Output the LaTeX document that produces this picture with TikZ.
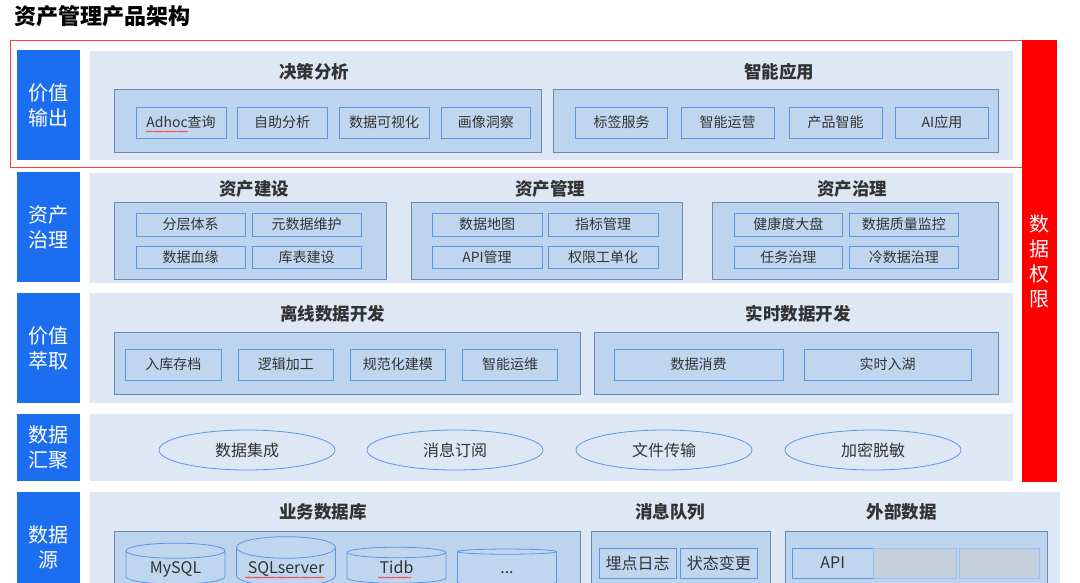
\documentclass[tikz,border=0pt]{standalone}
\usepackage{fontspec}
\setmainfont{Noto Sans CJK SC}
\usetikzlibrary{positioning,shapes.geometric,decorations.pathmorphing}

\definecolor{panelbg}{HTML}{DEE8F5}
\definecolor{groupbg}{HTML}{BDD4EE}
\definecolor{groupline}{HTML}{6E88B0}
\definecolor{itembg}{HTML}{C0D6EF}
\definecolor{itemline}{HTML}{5B95E4}
\definecolor{labelblue}{HTML}{1C6EF0}
\definecolor{textgrey}{HTML}{333333}
\definecolor{blurbg}{HTML}{C5D0DC}

\tikzset{
  panel/.style={fill=panelbg, draw=none},
  layerlabel/.style={fill=labelblue, draw=none, text=white, align=center,
    font=\fontsize{20}{25}\selectfont},
  groupbox/.style={fill=groupbg, draw=groupline, line width=0.8pt},
  itembox/.style={fill=itembg, draw=itemline, line width=0.8pt, text=textgrey,
    font=\fontsize{14}{16}\selectfont},
  srcbox/.style={itembox, font=\fontsize{16}{18}\selectfont},
  blurbox/.style={fill=blurbg, draw=itemline!60, line width=0.8pt},
  grouptitle/.style={text=textgrey, font=\bfseries\fontsize{17.5}{20}\selectfont},
  flowitem/.style={ellipse, draw=itemline, line width=0.8pt, text=textgrey,
    minimum width=176pt, minimum height=40pt, inner sep=0pt,
    font=\fontsize{16}{18}\selectfont},
  dbitem/.style={cylinder, shape border rotate=90, aspect=0.26, fill=itembg,
    draw=itemline, line width=0.8pt, minimum width=99pt, minimum height=36pt,
    outer sep=0pt, text height=11pt, text depth=3pt, text=textgrey,
    font=\fontsize{16}{18}\selectfont},
  squiggle/.style={red!85, line width=0.5pt, decorate,
    decoration={snake, amplitude=0.6pt, segment length=2.4pt}},
}

\begin{document}
\begin{tikzpicture}[x=1pt, y=-1pt]
  \clip (0,0) rectangle (1080,582);
  \fill[white] (0,0) rectangle (1080,582);
  \node[anchor=west, text=black, font=\bfseries\fontsize{22}{25}\selectfont] (title) at (11,16) {资产管理产品架构};

  % 价值输出
  \draw[layerlabel] (16.5,50) rectangle (80,160) node(outlbl)[pos=.5] {价值\\输出};
  \draw[panel] (89.5,51) rectangle (1013,160);
  \node[grouptitle] (decide) at (314,72) {决策分析};
  \node[grouptitle] (smart) at (779,72) {智能应用};
  \draw[groupbox] (114,89) rectangle (541,152);
  \draw[groupbox] (553,89) rectangle (998,152);
  \draw[itembox] (136,107) rectangle (226,138) node(adhoc)[pos=.5] {Adhoc查询};
  \draw[itembox] (237,107) rectangle (327,138) node(selfana)[pos=.5] {自助分析};
  \draw[itembox] (339,107) rectangle (429,138) node(visual)[pos=.5] {数据可视化};
  \draw[itembox] (441,107) rectangle (530.5,138) node(portrait)[pos=.5] {画像洞察};
  \draw[itembox] (575.5,107) rectangle (667.5,138) node(tags)[pos=.5] {标签服务};
  \draw[itembox] (681,107) rectangle (774,138) node(smartops)[pos=.5] {智能运营};
  \draw[itembox] (789,107) rectangle (882,138) node(prodsmart)[pos=.5] {产品智能};
  \draw[itembox] (895.5,107) rectangle (988.5,138) node(aiapp)[pos=.5] {AI应用};
  \draw[squiggle] (146,131.5) -- (188,131.5);
  \draw[red!75, line width=0.8pt] (10,40) rectangle (1022,167);

  % 资产治理
  \draw[layerlabel] (16.5,172) rectangle (80,282) node(govlbl)[pos=.5] {资产\\治理};
  \draw[panel] (89.5,173) rectangle (1013,283);
  \node[grouptitle] (build) at (254,189) {资产建设};
  \node[grouptitle] (manage) at (550,189) {资产管理};
  \node[grouptitle] (govern) at (852,189) {资产治理};
  \draw[groupbox] (114,202) rectangle (386,279);
  \draw[groupbox] (411,202) rectangle (682,279);
  \draw[groupbox] (712,202) rectangle (998,279);
  \draw[itembox] (136,213) rectangle (245,236) node(layer)[pos=.5] {分层体系};
  \draw[itembox] (252,213) rectangle (361,236) node(meta)[pos=.5] {元数据维护};
  \draw[itembox] (136,246) rectangle (245,268) node(lineage)[pos=.5] {数据血缘};
  \draw[itembox] (252,246) rectangle (361,268) node(tables)[pos=.5] {库表建设};
  \draw[itembox] (432,213) rectangle (542,236) node(datamap)[pos=.5] {数据地图};
  \draw[itembox] (548,213) rectangle (658,236) node(metric)[pos=.5] {指标管理};
  \draw[itembox] (432,246) rectangle (542,268) node(apimgr)[pos=.5] {API管理};
  \draw[itembox] (548,246) rectangle (658,268) node(ticket)[pos=.5] {权限工单化};
  \draw[itembox] (734,213) rectangle (842.5,236) node(health)[pos=.5] {健康度大盘};
  \draw[itembox] (849,213) rectangle (958.5,236) node(quality)[pos=.5] {数据质量监控};
  \draw[itembox] (734,246) rectangle (842.5,268) node(tasks)[pos=.5] {任务治理};
  \draw[itembox] (849,246) rectangle (958.5,268) node(cold)[pos=.5] {冷数据治理};

  % 价值萃取
  \draw[layerlabel] (16.5,293) rectangle (80,403) node(extlbl)[pos=.5] {价值\\萃取};
  \draw[panel] (89.5,293) rectangle (1013,403);
  \node[grouptitle] (offline) at (332.5,314) {离线数据开发};
  \node[grouptitle] (realtime) at (798,314) {实时数据开发};
  \draw[groupbox] (114,332) rectangle (580.5,394);
  \draw[groupbox] (594,332) rectangle (998,394);
  \draw[itembox] (125.5,349) rectangle (221,380) node(archive)[pos=.5] {入库存档};
  \draw[itembox] (238,349) rectangle (333.5,380) node(logic)[pos=.5] {逻辑加工};
  \draw[itembox] (350,349) rectangle (445.5,380) node(model)[pos=.5] {规范化建模};
  \draw[itembox] (462.5,349) rectangle (557.5,380) node(aiops)[pos=.5] {智能运维};
  \draw[itembox] (614,349) rectangle (783,380) node(consume)[pos=.5] {数据消费};
  \draw[itembox] (804,349) rectangle (971,380) node(lake)[pos=.5] {实时入湖};

  % 数据汇聚
  \draw[layerlabel] (16.5,414) rectangle (80,481) node(gatherlbl)[pos=.5] {数据\\汇聚};
  \draw[panel] (89.5,414) rectangle (1013,481);
  \node[flowitem] (integrate) at (247,450) {数据集成};
  \node[flowitem] (subscribe) at (455,450) {消息订阅};
  \node[flowitem] (transfer) at (664,450) {文件传输};
  \node[flowitem] (mask) at (873,450) {加密脱敏};

  \draw[fill=red, draw=none] (1022,40) rectangle (1057,482) node(perm)[pos=.5, text=white, align=center, font=\fontsize{20}{25}\selectfont] {数\\据\\权\\限};

  % 数据源
  \draw[layerlabel] (16.5,492) rectangle (80,603) node(srclbl)[pos=.5] {数据\\源};
  \draw[panel] (89.5,492) rectangle (1060,610);
  \node[grouptitle] (bizdb) at (323,512) {业务数据库};
  \node[grouptitle] (mq) at (670,512) {消息队列};
  \node[grouptitle] (extern) at (901.5,512) {外部数据};
  \draw[groupbox] (114,531) rectangle (580.5,610);
  \draw[groupbox] (591,531) rectangle (770.5,610);
  \draw[groupbox] (785.5,531) rectangle (1047,610);
  \node[dbitem] (mysql) at (175.5,569) {MySQL};
  \node[dbitem] (sqlserver) at (286,569) {SQLserver};
  \node[dbitem] (tidb) at (396.5,569) {Tidb};
  \node[dbitem] (moredb) at (507,569) {...};
  \draw[squiggle] (245,577.5) -- (325,577.5);
  \draw[squiggle] (378,577.5) -- (411,577.5);
  \draw[srcbox] (599,548) rectangle (676,578) node(track)[pos=.5] {埋点日志};
  \draw[srcbox] (680,548) rectangle (757.5,578) node(state)[pos=.5] {状态变更};
  \draw[srcbox] (792.5,548) rectangle (873,578) node(api)[pos=.5] {API};
  \draw[blurbox] (873,548) rectangle (956.5,578);
  \draw[blurbox] (959,548) rectangle (1039,578);
\end{tikzpicture}
\end{document}
